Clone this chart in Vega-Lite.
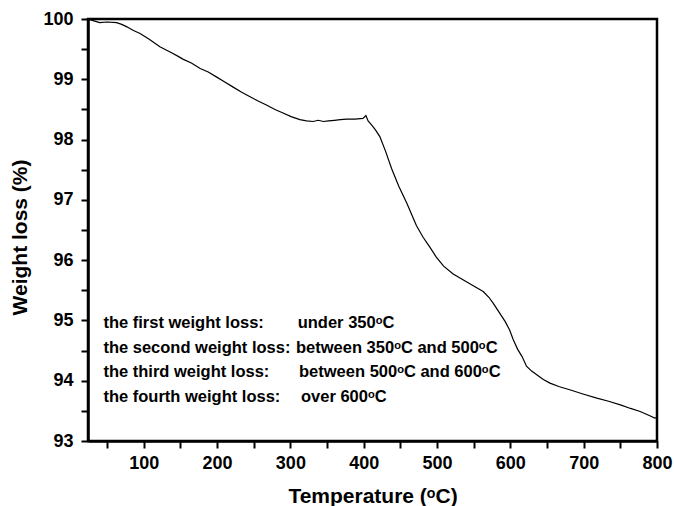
{
  "$schema": "https://vega.github.io/schema/vega-lite/v6.json",
  "width": 569,
  "height": 422,
  "autosize": "none",
  "padding": {"left": 88, "top": 19, "right": 17, "bottom": 65},
  "background": "white",
  "config": {
    "font": "Liberation Sans",
    "view": {"stroke": "black", "strokeWidth": 2.5},
    "axis": {
      "domainColor": "black",
      "domainWidth": 2.5,
      "tickColor": "black",
      "tickWidth": 2,
      "tickSize": 7,
      "ticks": true,
      "grid": false,
      "labelFont": "Liberation Sans",
      "labelFontWeight": "bold",
      "labelFontSize": 18,
      "labelColor": "black",
      "labelOverlap": false,
      "labelFlush": false,
      "titleFont": "Liberation Sans",
      "titleFontWeight": "bold",
      "titleFontSize": 21,
      "titleColor": "black"
    }
  },
  "datasets": {
    "tga": [
      {"t": 24, "w": 100.0},
      {"t": 32, "w": 99.97},
      {"t": 40, "w": 99.94},
      {"t": 50, "w": 99.95},
      {"t": 63, "w": 99.94},
      {"t": 70, "w": 99.91},
      {"t": 77, "w": 99.87},
      {"t": 86, "w": 99.81},
      {"t": 95, "w": 99.76},
      {"t": 108, "w": 99.66},
      {"t": 122, "w": 99.54},
      {"t": 138, "w": 99.44},
      {"t": 147, "w": 99.38},
      {"t": 154, "w": 99.33},
      {"t": 165, "w": 99.27},
      {"t": 177, "w": 99.18},
      {"t": 188, "w": 99.12},
      {"t": 199, "w": 99.04},
      {"t": 210, "w": 98.96},
      {"t": 222, "w": 98.87},
      {"t": 233, "w": 98.79},
      {"t": 245, "w": 98.71},
      {"t": 256, "w": 98.64},
      {"t": 268, "w": 98.57},
      {"t": 279, "w": 98.50},
      {"t": 290, "w": 98.44},
      {"t": 301, "w": 98.38},
      {"t": 313, "w": 98.33},
      {"t": 322, "w": 98.31},
      {"t": 331, "w": 98.30},
      {"t": 338, "w": 98.32},
      {"t": 345, "w": 98.30},
      {"t": 352, "w": 98.31},
      {"t": 360, "w": 98.32},
      {"t": 368, "w": 98.33},
      {"t": 377, "w": 98.34},
      {"t": 388, "w": 98.34},
      {"t": 399, "w": 98.35},
      {"t": 403, "w": 98.40},
      {"t": 406, "w": 98.31},
      {"t": 411, "w": 98.24},
      {"t": 416, "w": 98.16},
      {"t": 422, "w": 98.05},
      {"t": 430, "w": 97.80},
      {"t": 438, "w": 97.52},
      {"t": 448, "w": 97.22},
      {"t": 459, "w": 96.94},
      {"t": 466, "w": 96.74},
      {"t": 472, "w": 96.57},
      {"t": 481, "w": 96.38},
      {"t": 490, "w": 96.22},
      {"t": 499, "w": 96.05},
      {"t": 509, "w": 95.90},
      {"t": 522, "w": 95.77},
      {"t": 536, "w": 95.67},
      {"t": 550, "w": 95.57},
      {"t": 563, "w": 95.48},
      {"t": 571, "w": 95.38},
      {"t": 577, "w": 95.28},
      {"t": 585, "w": 95.13},
      {"t": 593, "w": 94.98},
      {"t": 599, "w": 94.84},
      {"t": 604, "w": 94.68},
      {"t": 610, "w": 94.52},
      {"t": 616, "w": 94.40},
      {"t": 622, "w": 94.24},
      {"t": 629, "w": 94.16},
      {"t": 636, "w": 94.10},
      {"t": 645, "w": 94.02},
      {"t": 654, "w": 93.96},
      {"t": 667, "w": 93.90},
      {"t": 681, "w": 93.85},
      {"t": 699, "w": 93.78},
      {"t": 718, "w": 93.71},
      {"t": 734, "w": 93.66},
      {"t": 750, "w": 93.60},
      {"t": 764, "w": 93.54},
      {"t": 777, "w": 93.49},
      {"t": 788, "w": 93.43},
      {"t": 797, "w": 93.38},
      {"t": 800, "w": 93.39}
    ],
    "notes": [
      {"stage": "the first weight loss:", "range": "under 350ᵒC", "t1": 45, "t2": 310, "w": 94.87},
      {"stage": "the second weight loss:", "range": "between 350ᵒC and 500ᵒC", "t1": 45, "t2": 307.7, "w": 94.465},
      {"stage": "the third weight loss:", "range": "between 500ᵒC and 600ᵒC", "t1": 45, "t2": 311.8, "w": 94.057},
      {"stage": "the fourth weight loss:", "range": "over 600ᵒC", "t1": 45, "t2": 314.5, "w": 93.652}
    ]
  },
  "layer": [
    {
      "data": {"name": "tga"},
      "mark": {"type": "line", "color": "black", "strokeWidth": 1.2, "clip": true},
      "encoding": {
        "x": {
          "field": "t",
          "type": "quantitative",
          "scale": {"domain": [24, 800], "nice": false, "zero": false},
          "axis": {
            "title": "Temperature (ᵒC)",
            "values": [50, 100, 150, 200, 250, 300, 350, 400, 450, 500, 550, 600, 650, 700, 750, 800],
            "tickCount": 60,
            "labelExpr": "(round(datum.value) % 100) == 0 ? '' + round(datum.value) : ''",
            "ticks": true,
            "tickSize": 7,
            "tickWidth": 2,
            "labelPadding": 6,
            "titlePadding": 13
          }
        },
        "y": {
          "field": "w",
          "type": "quantitative",
          "scale": {"domain": [93, 100], "nice": false, "zero": false},
          "axis": {
            "title": "Weight loss (%)",
            "values": [93, 93.5, 94, 94.5, 95, 95.5, 96, 96.5, 97, 97.5, 98, 98.5, 99, 99.5, 100],
            "tickCount": 60,
            "labelExpr": "(round(datum.value * 2) % 2) == 0 ? '' + round(datum.value) : ''",
            "ticks": true,
            "tickSize": 7,
            "tickWidth": 2,
            "labelPadding": 8,
            "titlePadding": 12,
            "titleY": 218
          }
        }
      }
    },
    {
      "data": {"name": "notes"},
      "mark": {"type": "text", "align": "left", "baseline": "alphabetic", "fontSize": 16.5, "fontWeight": "bold", "color": "black"},
      "encoding": {
        "x": {"field": "t1", "type": "quantitative"},
        "y": {"field": "w", "type": "quantitative"},
        "text": {"field": "stage"}
      }
    },
    {
      "data": {"name": "notes"},
      "mark": {"type": "text", "align": "left", "baseline": "alphabetic", "fontSize": 16.5, "fontWeight": "bold", "color": "black"},
      "encoding": {
        "x": {"field": "t2", "type": "quantitative"},
        "y": {"field": "w", "type": "quantitative"},
        "text": {"field": "range"}
      }
    }
  ]
}
